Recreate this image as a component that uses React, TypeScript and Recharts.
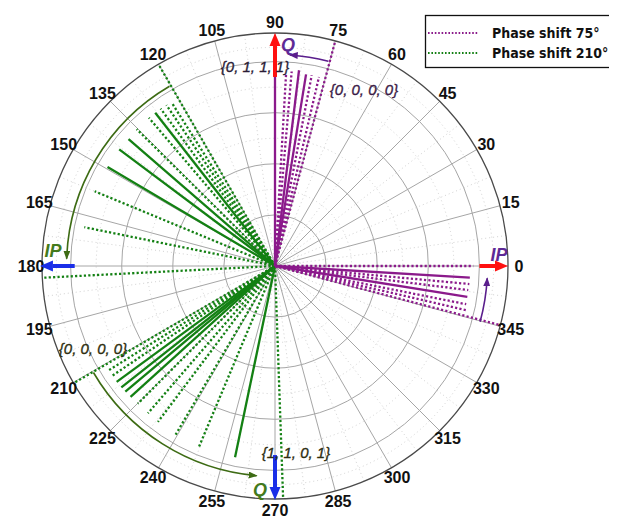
import {
  PolarAngleAxis,
  PolarGrid,
  PolarRadiusAxis,
  RadarChart,
  Scatter,
  ScatterChart,
  XAxis,
  YAxis,
} from 'recharts';

// chart geometry (container sits at the 8px body margin)
const WIDTH = 609;
const HEIGHT = 511;
const CX = 267;
const CY = 258;
const OUTER = 233;
const R_MAX = 1.14;
const K = OUTER / R_MAX;

const ANGLE_TICKS = [0, 15, 30, 45, 60, 75, 90, 105, 120, 135, 150, 165, 180, 195, 210, 225, 240, 255, 270, 285, 300, 315, 330, 345];
const MINOR_ANGLES = ANGLE_TICKS.map((a) => a + 7.5);
const RING_TICKS = [0.25, 0.5, 0.75, 1.0];
const MINOR_RINGS = [0.125, 0.375, 0.625, 0.875, 1.07];

// Phase shift 75° : Q branch (75..90) and IP branch (345..0)
const purpleAngles = [90, 86.7, 85.1, 83.0, 80.8, 79.1, 76.9, 75, 0, 356.6, 354.7, 352.9, 350.9, 348.7, 347, 345.3];
const purpleRadii = [0.95, 0.945, 0.955, 0.965, 0.95, 0.95, 0.95, 1.14, 0.97, 0.955, 0.955, 0.953, 0.953, 0.954, 0.96, 1.14];
const purpleStates = [2, 1, 1, 2, 2, 1, 1, 1, 1, 2, 1, 1, 2, 1, 1, 1];

// Phase shift 210° : IP branch (120..183) and Q branch (210..272)
const greenAngles = [120, 122.3, 124.0, 126.0, 128.0, 130.4, 135.3, 139.1, 143.2, 149.4, 157.5, 168.5, 182.9, 210.2, 212.1, 214.0, 216.2, 218.3, 220.0, 222.2, 225.1, 229.2, 233.1, 239.5, 247.2, 258.2, 272];
const greenRadii = [1.13, 0.945, 0.95, 0.952, 0.952, 0.952, 0.952, 0.948, 0.952, 0.952, 0.955, 0.952, 1.15, 1.14, 0.966, 0.966, 0.96, 0.958, 0.956, 0.954, 0.951, 0.951, 0.954, 0.96, 0.96, 0.956, 1.15];
const greenStates = [1, 1, 1, 1, 2, 1, 1, 2, 2, 2, 1, 1, 1, 1, 1, 1, 2, 2, 2, 2, 1, 1, 1, 1, 1, 2, 1];

const SERIES = [
  { name: 'Phase shift 75°', color: '#8b1a8b' },
  { name: 'Phase shift 210°', color: '#138013' },
];

// annotation marks, in polar terms (angle °, radius in axis units)
const axisArrows = [
  { angle: 90, from: 0.925, to: 1.14, color: '#ff1010' },
  { angle: 0, from: 1.0, to: 1.14, color: '#ff1010' },
  { angle: 180, from: 0.98, to: 1.15, color: '#1a2ee8' },
  { angle: 270, from: 0.925, to: 1.145, color: '#1a2ee8' },
];
const arcArrows = [
  { from: 75.4, to: 86, r: 1.035, color: '#5a1e8c' },
  { from: -15.2, to: -3.3, r: 1.04, color: '#5a1e8c' },
  { from: 120.4, to: 178, r: 1.02, color: '#3d6b14' },
  { from: 210.4, to: 265, r: 1.03, color: '#3d6b14' },
];
const stateLabels = [
  { text: '{0, 1, 1, 1}', x: 247, y: 58, color: '#2a1c36' },
  { text: '{0, 0, 0, 0}', x: 356, y: 81, color: '#3a1a46' },
  { text: '{0, 0, 0, 0}', x: 85, y: 340, color: '#2e2e0e' },
  { text: '{1, 1, 0, 1}', x: 288, y: 444, color: '#2e2d10' },
];
const axisLabels = [
  { text: 'Q', x: 280, y: 37, color: '#5e2a96' },
  { text: 'IP', x: 491, y: 247, color: '#5e2a96' },
  { text: 'IP', x: 45, y: 243, color: '#437a1c' },
  { text: 'Q', x: 252, y: 482, color: '#437a1c' },
];

const rad = (a: number) => (a * Math.PI) / 180;
const toPx = (a: number, r: number) => [CX + r * K * Math.cos(rad(a)), CY - r * K * Math.sin(rad(a))];

function AngleTick({ x, y, payload }: { x?: number; y?: number; payload?: { value: number } }) {
  return (
    <text x={x} y={y} textAnchor="middle" dominantBaseline="central" fontSize={16} fontWeight="bold" fill="#111">
      {payload?.value}
    </text>
  );
}

function rays(angles: number[], radii: number[], states: number[], color: string, prefix: string) {
  return angles.map((a, i) => {
    const end = { x: radii[i] * Math.cos(rad(a)), y: radii[i] * Math.sin(rad(a)) };
    const solid = states[i] > 1;
    return (
      <Scatter
        key={`${prefix}-${i}`}
        data={[{ x: 0, y: 0 }, end]}
        fill={color}
        line={{ stroke: color, strokeWidth: solid ? 2.3 : 2.3, strokeDasharray: solid ? undefined : '2.2 2.2' }}
        shape={() => <g />}
        isAnimationActive={false}
      />
    );
  });
}

function Annotations() {
  return (
    <svg width={WIDTH} height={HEIGHT} style={{ position: 'absolute', left: 0, top: 0, pointerEvents: 'none' }}>
      <defs>
        {arcArrows.map((arc, i) => (
          <marker key={i} id={`arc-head-${i}`} markerWidth={9} markerHeight={7} refX={8} refY={3.5} orient="auto" markerUnits="userSpaceOnUse">
            <path d="M0,0 L9,3.5 L0,7 z" fill={arc.color} />
          </marker>
        ))}
      </defs>
      {arcArrows.map((arc, i) => {
        const [x1, y1] = toPx(arc.from, arc.r);
        const [x2, y2] = toPx(arc.to, arc.r);
        const rr = arc.r * K;
        return (
          <path
            key={i}
            d={`M${x1},${y1} A${rr},${rr} 0 0 0 ${x2},${y2}`}
            fill="none"
            stroke={arc.color}
            strokeWidth={1.6}
            markerEnd={`url(#arc-head-${i})`}
          />
        );
      })}
      {axisArrows.map((ar, i) => {
        const headLen = 13;
        const [x1, y1] = toPx(ar.angle, ar.from);
        const [x2, y2] = toPx(ar.angle, ar.to);
        const ux = Math.cos(rad(ar.angle));
        const uy = -Math.sin(rad(ar.angle));
        const bx = x2 - ux * headLen;
        const by = y2 - uy * headLen;
        const w = 5.5;
        return (
          <g key={i}>
            <line x1={x1} y1={y1} x2={bx} y2={by} stroke={ar.color} strokeWidth={4} />
            <polygon
              points={`${x2},${y2} ${bx - uy * w},${by + ux * w} ${bx + uy * w},${by - ux * w}`}
              fill={ar.color}
            />
          </g>
        );
      })}
      {stateLabels.map((l, i) => (
        <text key={i} x={l.x} y={l.y} textAnchor="middle" dominantBaseline="central" fontSize={15} fontStyle="italic" fill={l.color} stroke={l.color} strokeWidth={0.3}>
          {l.text}
        </text>
      ))}
      {axisLabels.map((l, i) => (
        <text key={i} x={l.x} y={l.y} textAnchor="middle" dominantBaseline="central" fontSize={18} fontStyle="italic" fontWeight="bold" fill={l.color}>
          {l.text}
        </text>
      ))}
      <rect x={417.5} y={7.5} width={250} height={52} fill="#fff" stroke="#111" strokeWidth={1.3} />
      {SERIES.map((s, i) => (
        <g key={s.name}>
          <line x1={420} x2={470} y1={25 + i * 20} y2={25 + i * 20} stroke={s.color} strokeWidth={2} strokeDasharray="1.6 1.8" />
          <text x={484} y={25 + i * 20} dominantBaseline="central" fontSize={14} fontWeight="bold" fill="#111" style={{ fontFamily: "'DejaVu Sans Condensed', 'DejaVu Sans', sans-serif" }}>
            {s.name}
          </text>
        </g>
      ))}
    </svg>
  );
}

export default function App() {
  return (
    <div
      style={{
        position: 'relative',
        width: WIDTH,
        height: HEIGHT,
        overflow: 'hidden',
        fontFamily: "'Liberation Sans', Arial, sans-serif",
        background: '#fff',
      }}
    >
      <div style={{ position: 'absolute', left: 0, top: 0 }}>
        <RadarChart
          width={WIDTH}
          height={HEIGHT}
          cx={CX}
          cy={CY}
          outerRadius={OUTER}
          startAngle={15}
          endAngle={375}
          data={ANGLE_TICKS.map((a) => ({ angle: a }))}
        >
          <PolarGrid
            gridType="circle"
            polarAngles={MINOR_ANGLES}
            polarRadius={MINOR_RINGS.map((v) => v * K)}
            stroke="#d2d2d2"
            strokeDasharray="1 3"
          />
          <PolarGrid
            gridType="circle"
            polarAngles={ANGLE_TICKS}
            polarRadius={RING_TICKS.map((v) => v * K)}
            stroke="#a6a6a6"
          />
          <PolarGrid gridType="circle" polarAngles={[]} radialLines={false} polarRadius={[OUTER]} stroke="#4a4a4a" strokeWidth={1.3} />
          <PolarAngleAxis dataKey="angle" tick={<AngleTick />} tickLine={false} axisLine={false} tickSize={11} />
          <PolarRadiusAxis type="number" domain={[0, R_MAX]} tick={false} axisLine={false} />
        </RadarChart>
      </div>
      <div style={{ position: 'absolute', left: 0, top: 0 }}>
        <ScatterChart
          width={WIDTH}
          height={HEIGHT}
          margin={{ top: CY - OUTER, left: CX - OUTER, right: WIDTH - CX - OUTER, bottom: HEIGHT - CY - OUTER }}
        >
          <XAxis type="number" dataKey="x" domain={[-R_MAX, R_MAX]} hide allowDataOverflow />
          <YAxis type="number" dataKey="y" domain={[-R_MAX, R_MAX]} hide allowDataOverflow />
          {rays(greenAngles, greenRadii, greenStates, SERIES[1].color, 'g')}
          {rays(purpleAngles, purpleRadii, purpleStates, SERIES[0].color, 'p')}
        </ScatterChart>
      </div>
      <Annotations />
    </div>
  );
}
